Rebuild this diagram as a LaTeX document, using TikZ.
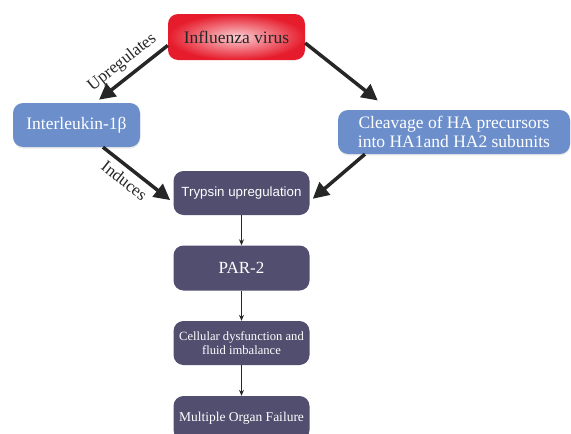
\documentclass[tikz,border=0pt]{standalone}
\usepackage{fontspec}
\setmainfont{Liberation Serif}
\setsansfont{Liberation Sans}
\usetikzlibrary{arrows.meta,shapes,positioning,shadows}
\definecolor{virusred}{RGB}{230,28,44}
\definecolor{virusglow}{RGB}{252,205,210}
\definecolor{stepblue}{RGB}{108,143,204}
\definecolor{stepdark}{RGB}{81,78,112}
\definecolor{arrowgray}{RGB}{38,38,38}
\tikzstyle{redbox} = [rectangle, rounded corners=10pt, minimum width=137pt, minimum height=46pt, text centered, inner color=virusglow, outer color=virusred, text=black!85, font=\fontsize{17.5}{19}\selectfont]
\tikzstyle{bluebox} = [rectangle, rounded corners=10pt, minimum height=44pt, text centered, align=center, fill=stepblue, text=white, font=\fontsize{17.5}{19}\selectfont, drop shadow={opacity=0.15, shadow xshift=0.5pt, shadow yshift=-1.5pt}]
\tikzstyle{darkbox} = [rectangle, rounded corners=10pt, minimum width=136pt, minimum height=44pt, text centered, align=center, fill=stepdark, text=white, inner sep=0pt]
\tikzstyle{bigarrow} = [line width=3.5pt, draw=arrowgray, -{Triangle[length=16pt,width=16pt]}]
\tikzstyle{thinarrow} = [line width=1pt, draw=arrowgray, -{Stealth[length=6pt,width=5pt]}]
\tikzstyle{edgetext} = [sloped, text=black!85, font=\fontsize{17}{19}\selectfont]

\begin{document}
\begin{tikzpicture}[node distance = 75pt]
    \useasboundingbox (0,0) rectangle (571pt,-434pt);
    \node (flu) [redbox] at (236.5pt,-37pt) {Influenza virus};
    \node (il) [bluebox, minimum width=127pt, below of=flu, xshift=-160pt, yshift=-13pt] {Interleukin-1β};
    \node (cl) [bluebox, minimum width=232pt, below of=flu, xshift=217.5pt, yshift=-20pt] {Cleavage of HA precursors\\into HA1and HA2 subunits};
    \node (tr) [darkbox, below of=flu, node distance=156pt, xshift=5pt, font=\sffamily\fontsize{13.3}{15}\selectfont] {Trypsin upregulation};
    \node (par) [darkbox, below of=tr, minimum height=45pt, font=\fontsize{17}{19}\selectfont] {PAR-2};
    \node (cell) [darkbox, below of=par, font=\fontsize{12.6}{14}\selectfont] {Cellular dysfunction and\\fluid imbalance};
    \node (mof) [darkbox, below of=cell, font=\fontsize{13.5}{15}\selectfont] {Multiple Organ Failure};
    \draw [bigarrow, shorten >=5pt] (flu.-173) -- node [edgetext, above=2pt] {Upregulates} (il.50);
    \draw [bigarrow, shorten >=15pt] (flu.-5) -- (cl.161);
    \draw [bigarrow, shorten >=4pt] (il.-40) -- node [edgetext, below=2pt, pos=0.42] {Induces} (tr.188);
    \draw [bigarrow, shorten >=4pt] (cl.194) -- (tr.-7);
    \draw [thinarrow] (tr) -- (par);
    \draw [thinarrow] (par) -- (cell);
    \draw [thinarrow] (cell) -- (mof);
\end{tikzpicture}
\end{document}
